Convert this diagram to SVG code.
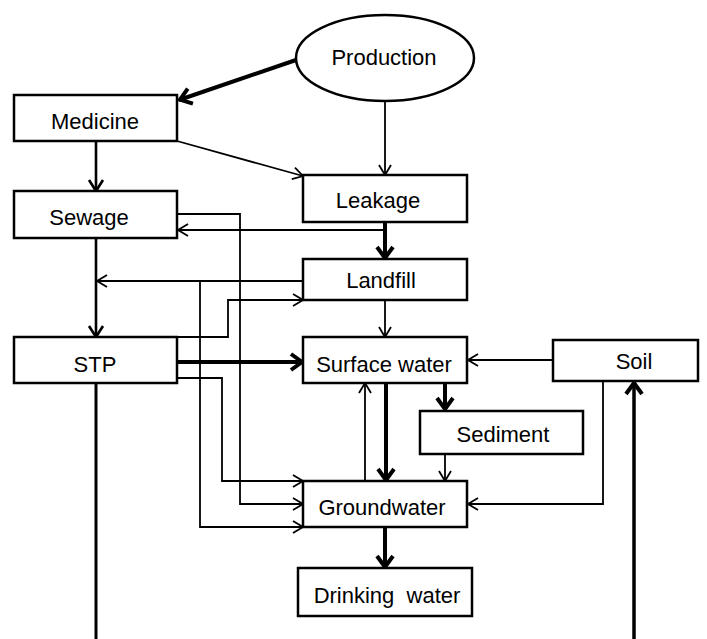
<svg xmlns="http://www.w3.org/2000/svg" width="707" height="639" viewBox="0 0 707 639">
<style>
.box{fill:#fff;stroke:#000;stroke-width:2.5}
.lbl{font-family:"Liberation Sans",Arial,sans-serif;font-size:22px;fill:#000;text-anchor:middle}
.thin{fill:none;stroke:#000;stroke-width:1.8}
.med{fill:none;stroke:#000;stroke-width:2.6}
.thick{fill:none;stroke:#000;stroke-width:4}
</style>
<defs>
<marker id="aThin" markerUnits="userSpaceOnUse" viewBox="-12 -8 14 16" refX="0" refY="0" markerWidth="14" markerHeight="16" orient="auto" overflow="visible">
<path d="M-10,-6 L0,0 L-10,6" fill="none" stroke="#000" stroke-width="1.8"/>
</marker>
<marker id="aMed" markerUnits="userSpaceOnUse" viewBox="-12 -8 14 16" refX="0" refY="0" markerWidth="14" markerHeight="16" orient="auto" overflow="visible">
<path d="M-11,-7 L0,0 L-11,7" fill="none" stroke="#000" stroke-width="2.6"/>
</marker>
<marker id="aThick" markerUnits="userSpaceOnUse" viewBox="-14 -10 16 20" refX="0" refY="0" markerWidth="16" markerHeight="20" orient="auto" overflow="visible">
<path d="M-12,-8 L-1,0 L-12,8" fill="none" stroke="#000" stroke-width="4"/>
</marker>
</defs>
<g id="connectors">
<path class="thick" d="M296,60 L179,100" marker-end="url(#aThick)"/>
<path class="thin" d="M385,101 L385,175" marker-end="url(#aThin)"/>
<path class="thin" d="M177,141 L303,176" marker-end="url(#aThin)"/>
<path class="med" d="M96,141 L96,191" marker-end="url(#aMed)"/>
<path class="thick" d="M385,222 L385,259" marker-end="url(#aThick)"/>
<path class="thin" d="M385,230 L178,230" marker-end="url(#aThin)"/>
<path class="thin" d="M177,214 L240,214 L240,504 L303,504" marker-end="url(#aThin)"/>
<path class="thin" d="M303,281 L97,281" marker-end="url(#aThin)"/>
<path class="thin" d="M200,282 L200,527 L303,527" marker-end="url(#aThin)"/>
<path class="thin" d="M177,337 L228,337 L228,300 L303,300" marker-end="url(#aThin)"/>
<path class="med" d="M96,238 L96,337" marker-end="url(#aMed)"/>
<path class="thick" d="M177,362 L303,362" marker-end="url(#aThick)"/>
<path class="thin" d="M385,300 L385,337" marker-end="url(#aThin)"/>
<path class="thin" d="M177,378 L222,378 L222,481 L303,481" marker-end="url(#aThin)"/>
<path class="thick" d="M386,383 L386,481" marker-end="url(#aThick)"/>
<path class="thin" d="M365,481 L365,383" marker-end="url(#aThin)"/>
<path class="thick" d="M445,383 L445,410" marker-end="url(#aThick)"/>
<path class="thin" d="M445,454 L445,481" marker-end="url(#aThin)"/>
<path class="thin" d="M553,360 L468,360" marker-end="url(#aThin)"/>
<path class="thin" d="M603,381 L603,504 L468,504" marker-end="url(#aThin)"/>
<path class="thick" d="M634,639 L634,382" marker-end="url(#aThick)" style="stroke-width:3.5"/>
<path class="thick" d="M96,383 L96,639" style="stroke-width:3"/>
<path class="thick" d="M385,527 L385,568" marker-end="url(#aThick)"/>
</g>
<g id="production"><ellipse class="box" cx="385" cy="58" rx="89" ry="43"/><text class="lbl" x="384" y="65">Production</text></g>
<g id="medicine"><rect class="box" x="14" y="95" width="163" height="46"/><text class="lbl" x="95" y="129">Medicine</text></g>
<g id="leakage"><rect class="box" x="303" y="175" width="164" height="47"/><text class="lbl" x="378" y="208">Leakage</text></g>
<g id="sewage"><rect class="box" x="14" y="191" width="163" height="47"/><text class="lbl" x="89" y="225">Sewage</text></g>
<g id="landfill"><rect class="box" x="303" y="259" width="164" height="41"/><text class="lbl" x="381" y="288">Landfill</text></g>
<g id="stp"><rect class="box" x="14" y="337" width="163" height="46"/><text class="lbl" x="95" y="372">STP</text></g>
<g id="surface-water"><rect class="box" x="303" y="337" width="164" height="46"/><text class="lbl" x="384" y="372">Surface water</text></g>
<g id="soil"><rect class="box" x="553" y="340" width="145" height="41"/><text class="lbl" x="634" y="369">Soil</text></g>
<g id="sediment"><rect class="box" x="420" y="411" width="163" height="43"/><text class="lbl" x="503" y="442">Sediment</text></g>
<g id="groundwater"><rect class="box" x="303" y="481" width="164" height="46"/><text class="lbl" x="382" y="515">Groundwater</text></g>
<g id="drinking-water"><rect class="box" x="298" y="568" width="174" height="48"/><text class="lbl" x="387" y="603" xml:space="preserve">Drinking  water</text></g>
</svg>
